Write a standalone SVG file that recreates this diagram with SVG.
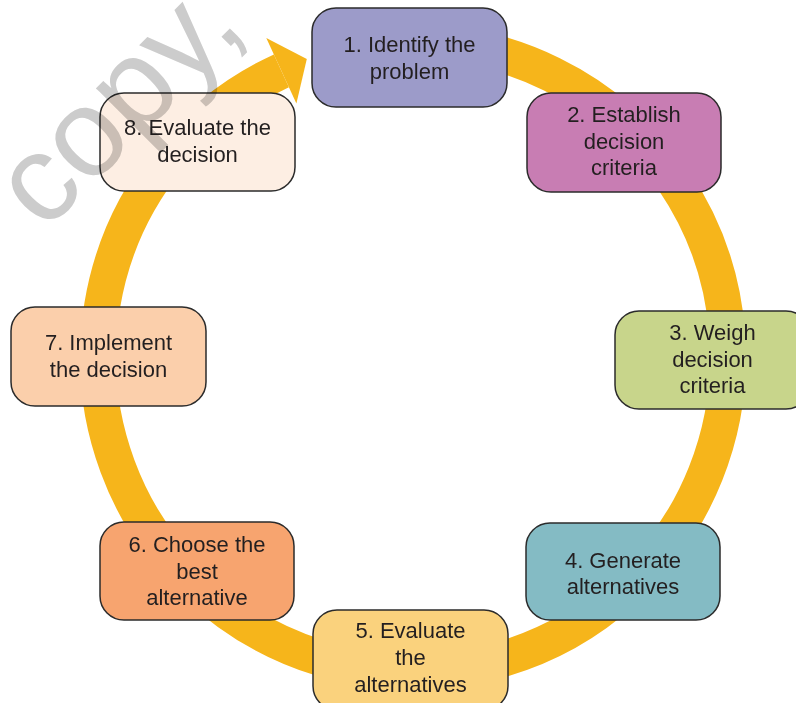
<svg xmlns="http://www.w3.org/2000/svg" width="796" height="703" viewBox="0 0 796 703">
  <style>
    .box { stroke: #2b2b2b; stroke-width: 1.5; }
    .lbl { font-family: "Liberation Sans", Arial, Helvetica, sans-serif; font-size: 22px; fill: #231f20; text-anchor: middle; }
    .ring { fill: none; stroke: #f6b51b; stroke-width: 36; stroke-linecap: butt; }
    .wm { font-family: "Liberation Sans", Arial, sans-serif; font-size: 124px; fill: #cccccc; mix-blend-mode: multiply; }
  </style>
  <rect width="796" height="703" fill="#ffffff"/>
  <g id="connectors">
    <path class="ring" d="M 413 42 A 315 315 0 1 1 281.4 70.8"/>
    <polygon points="266.3,38.1 306.8,59.1 296.4,103.5" fill="#f6b51b"/>
  </g>
  <g id="node1">
    <rect class="box" x="312" y="8" width="195" height="99" rx="24" fill="#9c9bc9"/>
    <text class="lbl" x="409.5" y="52">1. Identify the</text>
    <text class="lbl" x="409.5" y="79">problem</text>
  </g>
  <g id="node2">
    <rect class="box" x="527" y="93" width="194" height="99" rx="24" fill="#c87db3"/>
    <text class="lbl" x="624" y="122">2. Establish</text>
    <text class="lbl" x="624" y="148.5">decision</text>
    <text class="lbl" x="624" y="175">criteria</text>
  </g>
  <g id="node3">
    <rect class="box" x="615" y="311" width="195" height="98" rx="24" fill="#c8d58b"/>
    <text class="lbl" x="712.5" y="340">3. Weigh</text>
    <text class="lbl" x="712.5" y="366.5">decision</text>
    <text class="lbl" x="712.5" y="393">criteria</text>
  </g>
  <g id="node4">
    <rect class="box" x="526" y="523" width="194" height="97" rx="24" fill="#84bbc4"/>
    <text class="lbl" x="623" y="567.5">4. Generate</text>
    <text class="lbl" x="623" y="594">alternatives</text>
  </g>
  <g id="node5">
    <rect class="box" x="313" y="610" width="195" height="100" rx="24" fill="#fad27d"/>
    <text class="lbl" x="410.5" y="638">5. Evaluate</text>
    <text class="lbl" x="410.5" y="665">the</text>
    <text class="lbl" x="410.5" y="691.5">alternatives</text>
  </g>
  <g id="node6">
    <rect class="box" x="100" y="522" width="194" height="98" rx="24" fill="#f7a46f"/>
    <text class="lbl" x="197" y="552">6. Choose the</text>
    <text class="lbl" x="197" y="578.5">best</text>
    <text class="lbl" x="197" y="605">alternative</text>
  </g>
  <g id="node7">
    <rect class="box" x="11" y="307" width="195" height="99" rx="24" fill="#fbcfab"/>
    <text class="lbl" x="108.5" y="350">7. Implement</text>
    <text class="lbl" x="108.5" y="377">the decision</text>
  </g>
  <g id="node8">
    <rect class="box" x="100" y="93" width="195" height="98" rx="24" fill="#fdeee3"/>
    <text class="lbl" x="197.5" y="135">8. Evaluate the</text>
    <text class="lbl" x="197.5" y="162">decision</text>
  </g>
  <g id="watermark">
    <text class="wm" transform="translate(44 233) rotate(-45)">copy,</text>
  </g>
</svg>
